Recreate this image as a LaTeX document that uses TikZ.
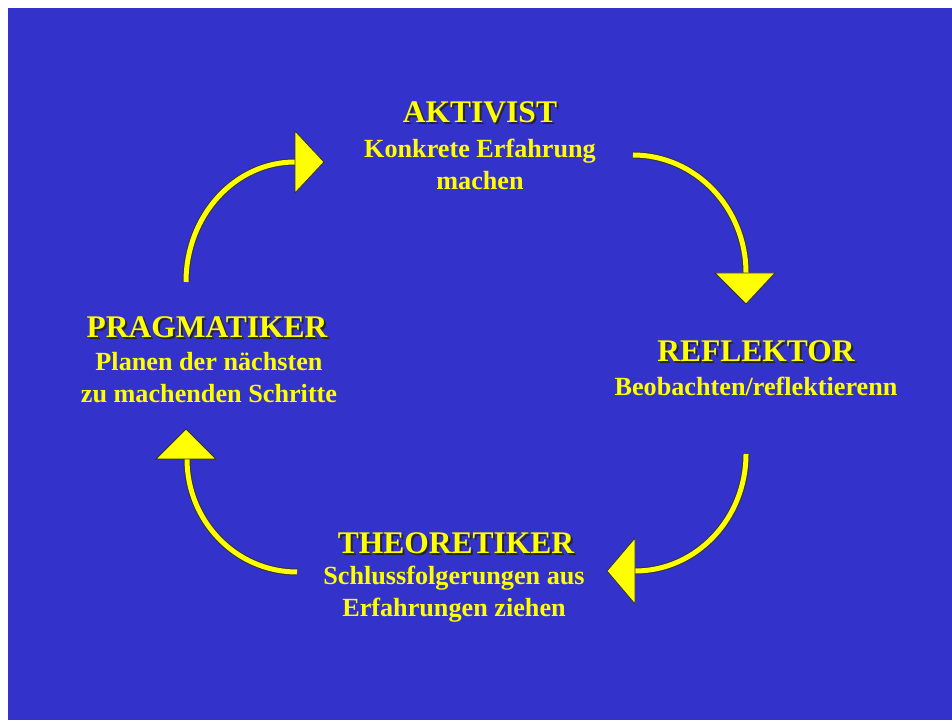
\documentclass[tikz,border=0pt]{standalone}
\usepackage{fontspec}
\setmainfont{Liberation Serif}
\usetikzlibrary{positioning,calc}

\definecolor{slideblue}{RGB}{51,51,204}
\definecolor{sunyellow}{RGB}{255,255,0}

% heading with a dark drop shadow, set in one box
\newcommand{\shadowed}[1]{\makebox[0pt][l]{\hspace{2pt}\raisebox{-2pt}{\color{black!85}#1}}#1}

\tikzset{
  stage/.style={text=sunyellow, inner sep=0pt, font=\bfseries\fontsize{31.5}{34}\selectfont},
  note/.style={text=sunyellow, inner sep=0pt, align=center, font=\bfseries\fontsize{26.2}{32}\selectfont},
  cycleline/.style={line width=7pt, draw=black!80},
  cyclefill/.style={line width=5pt, draw=sunyellow},
  cyclehead/.style={fill=sunyellow, draw=black!80, line width=0.8pt, line join=miter},
}

\begin{document}
\begin{tikzpicture}[x=1pt,y=1pt]
  % page and slide
  \fill[white] (0,0) rectangle (952,720);
  \fill[slideblue] (8,0) rectangle (952,712);
  \useasboundingbox (0,0) rectangle (952,720);

  % the four stages
  \node[stage] (aktivist) at (480,607) {\shadowed{AKTIVIST}};
  \node[note] (aktivistnote) at (480,556) {Konkrete Erfahrung\\machen};

  \node[stage] (reflektor) at (756,368) {\shadowed{REFLEKTOR}};
  \node[note] (reflektornote) at (756,334) {Beobachten/reflektierenn};

  \node[stage] (theoretiker) at (456,176) {\shadowed{THEORETIKER}};
  \node[note] (theoretikernote) at (454,126) {Schlussfolgerungen aus\\Erfahrungen ziehen};

  \node[stage] (pragmatiker) at (207,392) {\shadowed{PRAGMATIKER}};
  \node[note] (pragmatikernote) at (209,342) {Planen der n\"achsten\\zu machenden Schritte};

  % arrow ends
  \coordinate (pa) at (186,438);
  \coordinate (pb) at (295,558);
  \coordinate (aa) at (633,565);
  \coordinate (ab) at (746,447);
  \coordinate (ra) at (746,266);
  \coordinate (rb) at (635,149);
  \coordinate (ta) at (297,148);
  \coordinate (tb) at (187,261);

  % pragmatiker -> aktivist
  \draw[cycleline] (pa) arc[start angle=180, end angle=90, x radius=109, y radius=120];
  \draw[cyclefill] (pa) arc[start angle=180, end angle=90, x radius=109, y radius=120];
  \draw[cyclehead] ($(pb)+(0,31)$) -- ($(pb)+(29,0)$) -- ($(pb)+(0,-31)$) -- cycle;

  % aktivist -> reflektor
  \draw[cycleline] (aa) arc[start angle=90, end angle=0, x radius=113, y radius=118];
  \draw[cyclefill] (aa) arc[start angle=90, end angle=0, x radius=113, y radius=118];
  \draw[cyclehead] ($(ab)+(-31,0)$) -- ($(ab)+(0,-31)$) -- ($(ab)+(29,0)$) -- cycle;

  % reflektor -> theoretiker
  \draw[cycleline] (ra) arc[start angle=0, end angle=-90, x radius=111, y radius=117];
  \draw[cyclefill] (ra) arc[start angle=0, end angle=-90, x radius=111, y radius=117];
  \draw[cyclehead] ($(rb)+(0,33)$) -- ($(rb)+(-28,0)$) -- ($(rb)+(0,-33)$) -- cycle;

  % theoretiker -> pragmatiker
  \draw[cycleline] (ta) arc[start angle=270, end angle=180, x radius=110, y radius=113];
  \draw[cyclefill] (ta) arc[start angle=270, end angle=180, x radius=110, y radius=113];
  \draw[cyclehead] ($(tb)+(-31,0)$) -- ($(tb)+(-1,30)$) -- ($(tb)+(29,0)$) -- cycle;
\end{tikzpicture}
\end{document}
